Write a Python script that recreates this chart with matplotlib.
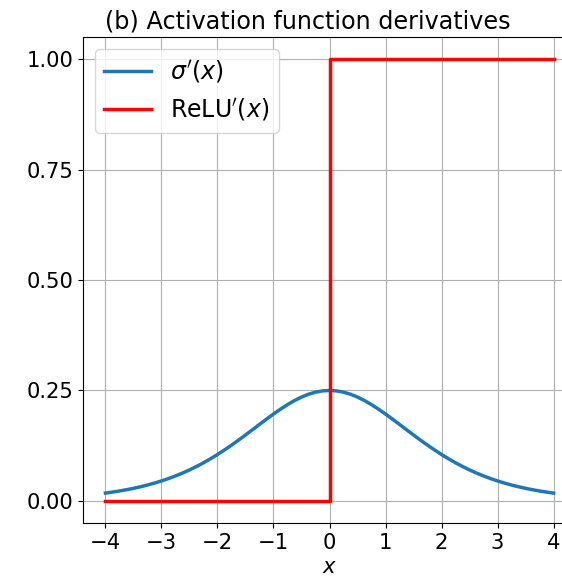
import numpy as np
import matplotlib.pyplot as plt

# sigmoid derivative sampled every 0.125 on [-4, 4]
x_sig = np.linspace(-4, 4, 65)
y_sig = [0.01766, 0.01992, 0.02245, 0.02528, 0.02845, 0.03199, 0.03593, 0.04032,
         0.04518, 0.05055, 0.05648, 0.06298, 0.07010, 0.07785, 0.08626, 0.09531,
         0.10499, 0.11528, 0.12618, 0.13745, 0.14915, 0.16108, 0.17311, 0.18502,
         0.19661, 0.20765, 0.21789, 0.22709, 0.23500, 0.24141, 0.24613, 0.24902,
         0.25000,
         0.24902, 0.24613, 0.24141, 0.23500, 0.22709, 0.21789, 0.20765, 0.19661,
         0.18502, 0.17311, 0.16108, 0.14915, 0.13745, 0.12618, 0.11528, 0.10499,
         0.09531, 0.08626, 0.07785, 0.07010, 0.06298, 0.05648, 0.05055, 0.04518,
         0.04032, 0.03593, 0.03199, 0.02845, 0.02528, 0.02245, 0.01992, 0.01766]

# ReLU derivative: step at zero
x_relu = [-4.0, 0.0, 0.0, 4.0]
y_relu = [0.0, 0.0, 1.0, 1.0]

yticks = [0.0, 0.25, 0.5, 0.75, 1.0]
xticks = [-4, -3, -2, -1, 0, 1, 2, 3, 4]

plt.rcParams['font.size'] = 15.2
plt.rcParams['mathtext.fontset'] = 'dejavusans'

fig = plt.figure(figsize=(5.62, 5.79), dpi=100)
ax = fig.add_axes([83 / 562, 56 / 579, 493 / 562, 486 / 579])

ax.plot(x_sig, y_sig, color='#1f77b4', lw=2.5, label=r"$\sigma'(x)$")
ax.plot(x_relu, y_relu, color='red', lw=2.5, label=r"ReLU$'(x)$")

ax.set_xticks(xticks)
ax.set_yticks(yticks)
ax.set_yticklabels([f"{v:.2f}" for v in yticks])
ax.grid(True)
ax.set_xlabel(r"$x$", labelpad=3)
ax.set_title("(b) Activation function derivatives", x=0.456, fontsize=17.2)
ax.legend(loc='upper left', fontsize=17)

fig.savefig("out.png", dpi=100)
